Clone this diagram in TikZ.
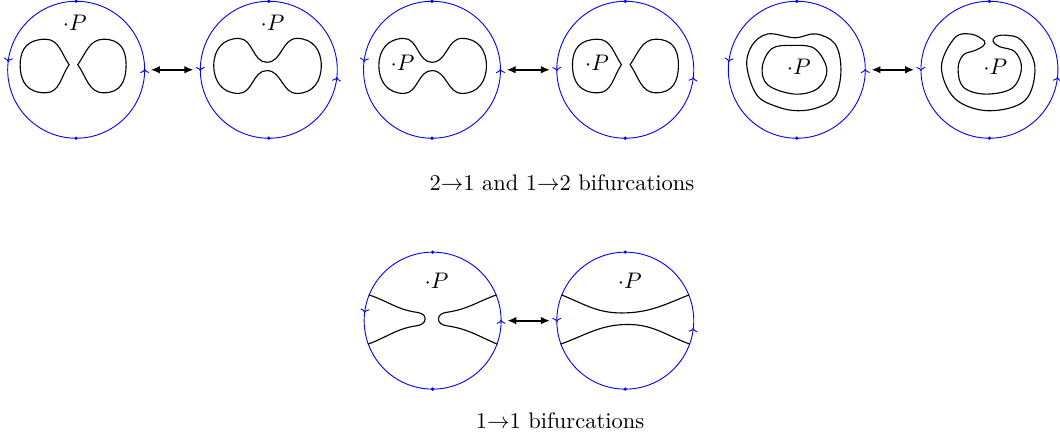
\documentclass[tikz,border=0pt]{standalone}
\usepackage{amsmath}
\usepackage{tikz}
\usetikzlibrary{arrows.meta,calc,decorations.markings}

\tikzset{
  disk/.style={circle,draw=blue,minimum size=2.14cm,inner sep=0pt},
  flowa/.style={disk,postaction={decorate,decoration={markings,
      mark=at position 0.002 with {\arrow[blue]{To[length=1.8pt,width=4pt]}},
      mark=at position 0.25 with {\fill[blue] (0,0) circle (0.8pt);},
      mark=at position 0.482 with {\arrow[blue]{To[length=1.8pt,width=4pt]}},
      mark=at position 0.75 with {\fill[blue] (0,0) circle (0.8pt);}}}},
  flowb/.style={disk,postaction={decorate,decoration={markings,
      mark=at position 0.25 with {\fill[blue] (0,0) circle (0.8pt);},
      mark=at position 0.503 with {\arrow[blue]{To[length=1.8pt,width=4pt]}},
      mark=at position 0.75 with {\fill[blue] (0,0) circle (0.8pt);},
      mark=at position 0.983 with {\arrow[blue]{To[length=1.8pt,width=4pt]}}}}},
  curve/.style={line width=0.5pt},
  bif/.style={thick,{Latex[length=4pt,width=3.4pt]}-{Latex[length=4pt,width=3.4pt]},
    shorten <=0.09cm,shorten >=0.1cm}
}

\begin{document}
\begin{tikzpicture}
  \useasboundingbox (0,0) rectangle (16.5625,-6.8125);

  % discs, first row
  \node[flowa] (c1) at (1.19,-1.09) {};
  \node[flowb] (c2) at (4.2,-1.09) {};
  \node[flowa] (c3) at (6.75,-1.09) {};
  \node[flowb] (c4) at (9.77,-1.09) {};
  \node[flowa] (c5) at (12.45,-1.09) {};
  \node[flowb] (c6) at (15.46,-1.09) {};
  % discs, second row
  \node[flowa] (c7) at (6.76,-5.01) {};
  \node[flowb] (c8) at (9.77,-5.01) {};

  \draw[bif] (c1) -- (c2);
  \draw[bif] (c3) -- (c4);
  \draw[bif] (c5) -- (c6);
  \draw[bif] (c7) -- (c8);

  \node (p1) at ([shift={(-0.02,0.74)}]c1) {$\cdot P$};
  \node (p2) at ([shift={(0.06,0.74)}]c2) {$\cdot P$};
  \node (p3) at ([shift={(-0.46,0.11)}]c3) {$\cdot P$};
  \node (p4) at ([shift={(-0.44,0.11)}]c4) {$\cdot P$};
  \node (p5) at ([shift={(0.03,0.04)}]c5) {$\cdot P$};
  \node (p6) at ([shift={(0.09,0.04)}]c6) {$\cdot P$};
  \node (p7) at ([shift={(0.06,0.63)}]c7) {$\cdot P$};
  \node (p8) at ([shift={(0.07,0.63)}]c8) {$\cdot P$};

  % two ovals
  \begin{scope}[shift={(c1)}]
    \draw[curve] (-0.11,0.08) to[out=125,in=0] (-0.48,0.477) to[out=180,in=90,looseness=1.2] (-0.875,0.08)
      to[out=-90,in=180,looseness=1.2] (-0.48,-0.36) to[out=0,in=-125] (-0.11,0.08) -- cycle;
    \draw[curve] (0.026,0.08) to[out=55,in=180] (0.43,0.477) to[out=0,in=90,looseness=1.2] (0.78,0.08)
      to[out=-90,in=0,looseness=1.2] (0.43,-0.36) to[out=180,in=-55] (0.026,0.08) -- cycle;
  \end{scope}
  % one oval with a neck
  \begin{scope}[shift={(c2)}]
    \draw[curve] (-0.86,0.065) to[out=90,in=180,looseness=1.1] (-0.47,0.49) to[out=0,in=180] (-0.03,0.117)
      to[out=0,in=180] (0.44,0.49) to[out=0,in=90,looseness=1.1] (0.82,0.065)
      to[out=-90,in=0,looseness=1.1] (0.44,-0.37) to[out=180,in=0] (-0.03,-0.013)
      to[out=180,in=0] (-0.47,-0.37) to[out=180,in=-90,looseness=1.1] (-0.86,0.065) -- cycle;
  \end{scope}
  \begin{scope}[shift={([xshift=0.03cm]c3)}]
    \draw[curve] (-0.86,0.065) to[out=90,in=180,looseness=1.1] (-0.47,0.49) to[out=0,in=180] (-0.03,0.117)
      to[out=0,in=180] (0.44,0.49) to[out=0,in=90,looseness=1.1] (0.82,0.065)
      to[out=-90,in=0,looseness=1.1] (0.44,-0.37) to[out=180,in=0] (-0.03,-0.013)
      to[out=180,in=0] (-0.47,-0.37) to[out=180,in=-90,looseness=1.1] (-0.86,0.065) -- cycle;
  \end{scope}
  \begin{scope}[shift={([xshift=0.05cm]c4)}]
    \draw[curve] (-0.11,0.08) to[out=125,in=0] (-0.48,0.477) to[out=180,in=90,looseness=1.2] (-0.875,0.08)
      to[out=-90,in=180,looseness=1.2] (-0.48,-0.36) to[out=0,in=-125] (-0.11,0.08) -- cycle;
    \draw[curve] (0.026,0.08) to[out=55,in=180] (0.43,0.477) to[out=0,in=90,looseness=1.2] (0.78,0.08)
      to[out=-90,in=0,looseness=1.2] (0.43,-0.36) to[out=180,in=-55] (0.026,0.08) -- cycle;
  \end{scope}
  % nested ovals and the horseshoe
  \begin{scope}[shift={(c5)}]
    \draw[curve] plot[smooth cycle,tension=0.6] coordinates {(-0.78,0.05) (-0.7,0.38) (-0.45,0.56)
      (-0.03,0.5) (0.3,0.56) (0.6,0.4) (0.69,0) (0.6,-0.42) (0.33,-0.59) (0.016,-0.64)
      (-0.3,-0.58) (-0.62,-0.4)};
    \draw[curve] plot[smooth cycle,tension=0.6] coordinates {(-0.54,0.04) (-0.39,0.33) (-0.08,0.38)
      (0.28,0.33) (0.47,0) (0.33,-0.29) (-0.03,-0.38) (-0.45,-0.24)};
  \end{scope}
  \begin{scope}[shift={(c6)}]
    \draw[curve] plot[smooth cycle,tension=0.6] coordinates {(-0.08,0.45) (-0.28,0.555) (-0.54,0.5)
      (-0.75,0.045) (-0.54,-0.45) (-0.02,-0.64) (0.555,-0.48) (0.71,0.045) (0.5,0.46) (0.24,0.54)
      (0.086,0.51) (0.06,0.435) (0.16,0.36) (0.4,0.28) (0.5,0.02) (0.35,-0.29) (-0.07,-0.38)
      (-0.41,-0.27) (-0.49,0.02) (-0.41,0.23) (-0.23,0.3) (-0.1,0.37)};
  \end{scope}
  % arcs through the disc
  \begin{scope}[shift={(c7)}]
    \draw[curve] (c7.158) to[out=-18,in=172] (-0.25,0.13) to[out=-8,in=90] (-0.117,0.03)
      to[out=-90,in=8] (-0.25,-0.08) to[out=188,in=20] (c7.200);
    \draw[curve] (c7.22) to[out=200,in=8] (0.22,0.13) to[out=188,in=90] (0.09,0.025)
      to[out=-90,in=172] (0.22,-0.08) to[out=-8,in=157] (c7.-20);
  \end{scope}
  \begin{scope}[shift={(c8)}]
    \draw[curve] (c8.158) to[out=-22,in=180] (-0.06,0.12) to[out=0,in=202] (c8.22);
    \draw[curve] (c8.200) to[out=20,in=180] (0.044,-0.06) to[out=0,in=160] (c8.-20);
  \end{scope}

  \node (t1) at (8.78,-2.86) {2$\to$1 and 1$\to$2 bifurcations};
  \node (t2) at (8.75,-6.58) {1$\to$1 bifurcations};
\end{tikzpicture}
\end{document}
